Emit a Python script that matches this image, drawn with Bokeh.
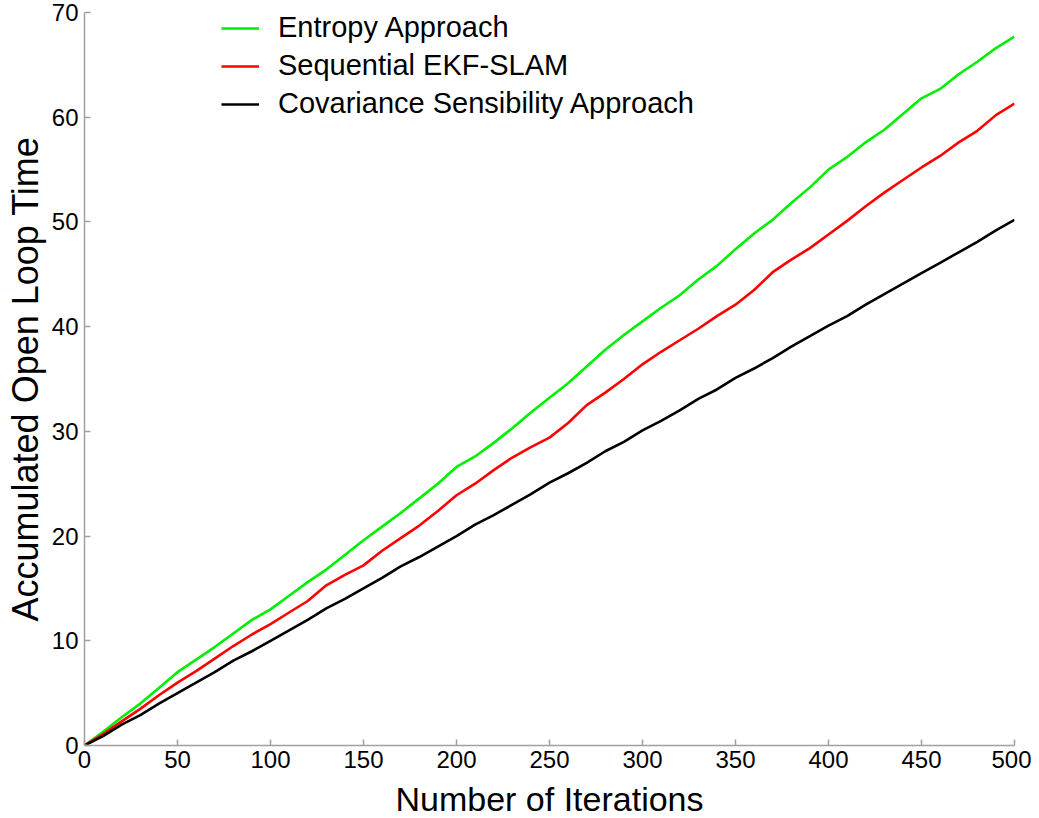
from bokeh.plotting import figure
from bokeh.models import Range1d, FixedTicker, Legend, LegendItem
from bokeh.embed import file_html
from bokeh.resources import INLINE

iterations = [0, 10, 20, 30, 40, 50, 60, 70, 80, 90, 100, 110, 120, 130, 140, 150, 160, 170, 180, 190,
              200, 210, 220, 230, 240, 250, 260, 270, 280, 290, 300, 310, 320, 330, 340, 350, 360, 370, 380, 390,
              400, 410, 420, 430, 440, 450, 460, 470, 480, 490, 500]

entropy = [0.0, 1.3, 2.7, 4.0, 5.5, 7.0, 8.2, 9.4, 10.7, 12.0, 13.0, 14.3, 15.6, 16.8, 18.2, 19.6, 20.9, 22.2, 23.6, 25.0,
           26.6, 27.6, 28.9, 30.3, 31.8, 33.2, 34.6, 36.2, 37.8, 39.2, 40.5, 41.8, 43.0, 44.5, 45.8, 47.4, 48.9, 50.2, 51.8, 53.3,
           55.0, 56.2, 57.6, 58.8, 60.3, 61.8, 62.7, 64.1, 65.3, 66.6, 67.7]

sequential = [0.0, 1.1, 2.3, 3.5, 4.8, 6.0, 7.1, 8.3, 9.5, 10.6, 11.6, 12.7, 13.8, 15.3, 16.3, 17.2, 18.6, 19.8, 21.0, 22.4,
              23.9, 25.0, 26.3, 27.5, 28.5, 29.4, 30.8, 32.5, 33.7, 35.0, 36.4, 37.6, 38.7, 39.8, 41.0, 42.1, 43.5, 45.2, 46.4, 47.5,
              48.8, 50.1, 51.5, 52.8, 54.0, 55.2, 56.3, 57.6, 58.7, 60.2, 61.3]

covariance = [0.0, 0.9, 2.0, 2.9, 4.0, 5.0, 6.0, 7.0, 8.1, 9.0, 10.0, 11.0, 12.0, 13.1, 14.0, 15.0, 16.0, 17.1, 18.0, 19.0,
              20.0, 21.1, 22.0, 23.0, 24.0, 25.1, 26.0, 27.0, 28.1, 29.0, 30.1, 31.0, 32.0, 33.1, 34.0, 35.1, 36.0, 37.0, 38.1, 39.1,
              40.1, 41.0, 42.1, 43.1, 44.1, 45.1, 46.1, 47.1, 48.1, 49.2, 50.2]

series_names = ["Entropy Approach", "Sequential EKF-SLAM", "Covariance Sensibility Approach"]
x_ticks = [0, 50, 100, 150, 200, 250, 300, 350, 400, 450, 500]
y_ticks = [0, 10, 20, 30, 40, 50, 60, 70]

FONT = "Liberation Sans"

p = figure(width=1031, height=810, frame_width=930, frame_height=733,
           output_backend="svg", toolbar_location=None,
           x_range=Range1d(0, 500), y_range=Range1d(0, 70),
           min_border_left=84, min_border_right=17, min_border_top=12, min_border_bottom=65)
p.outline_line_color = None
p.grid.visible = False
p.background_fill_color = "white"
p.border_fill_color = "white"

r1 = p.line(iterations, entropy, line_color="#00ee00", line_width=2.6)
r2 = p.line(iterations, sequential, line_color="#ff0000", line_width=2.6)
r3 = p.line(iterations, covariance, line_color="#000000", line_width=2.6)

for ax in (p.xaxis[0], p.yaxis[0]):
    ax.axis_line_color = "#a0a0a0"
    ax.axis_line_width = 1.5
    ax.major_tick_line_color = "#a0a0a0"
    ax.major_tick_line_width = 1.5
    ax.major_tick_in = 6
    ax.major_tick_out = 0
    ax.minor_tick_line_color = None
    ax.major_label_text_font = FONT
    ax.major_label_text_font_size = "24px"
    ax.major_label_text_color = "black"
    ax.axis_label_text_font = FONT
    ax.axis_label_text_font_style = "normal"
    ax.axis_label_text_color = "black"

p.xaxis[0].ticker = FixedTicker(ticks=x_ticks)
p.yaxis[0].ticker = FixedTicker(ticks=y_ticks)
p.xaxis[0].axis_label = "Number of Iterations"
p.yaxis[0].axis_label = "Accumulated Open Loop Time"
p.xaxis[0].axis_label_text_font_size = "34px"
p.yaxis[0].axis_label_text_font_size = "36px"
p.xaxis[0].major_label_standoff = 5
p.yaxis[0].major_label_standoff = 6
p.xaxis[0].axis_label_standoff = 9
p.yaxis[0].axis_label_standoff = 3

legend = Legend(items=[LegendItem(label=series_names[0], renderers=[r1]),
                       LegendItem(label=series_names[1], renderers=[r2]),
                       LegendItem(label=series_names[2], renderers=[r3])],
                location=(137, 625))
legend.border_line_color = None
legend.background_fill_alpha = 0
legend.label_text_font = FONT
legend.label_text_font_size = "29px"
legend.label_text_color = "black"
legend.glyph_width = 38
legend.label_standoff = 19
legend.spacing = 5
legend.padding = 0
legend.margin = 0
p.add_layout(legend, "center")

open("out.html", "w").write(file_html(p, INLINE))
